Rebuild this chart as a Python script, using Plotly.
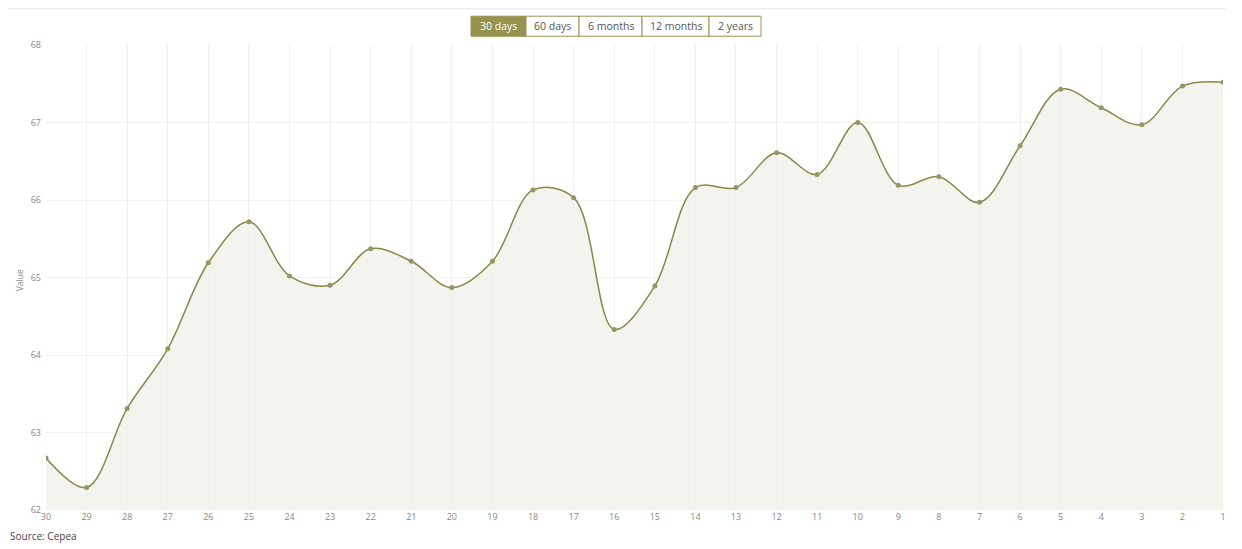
import plotly.graph_objects as go

days = ["30", "29", "28", "27", "26", "25", "24", "23", "22", "21", "20", "19", "18", "17", "16",
        "15", "14", "13", "12", "11", "10", "9", "8", "7", "6", "5", "4", "3", "2", "1"]
values = [62.67, 62.29, 63.31, 64.08, 65.19, 65.72, 65.02, 64.90, 65.37, 65.21,
          64.87, 65.21, 66.13, 66.03, 64.33, 64.89, 66.16, 66.16, 66.61, 66.33,
          67.00, 66.19, 66.30, 65.97, 66.70, 67.43, 67.19, 66.97, 67.47, 67.52]
y_ticks = [62, 63, 64, 65, 66, 67, 68]
buttons = ["30 days", "60 days", "6 months", "12 months", "2 years"]
button_edges_px = [471, 526, 579, 642, 709, 761]

W, H = 1242, 549
OFF = 8  # page body margin
L, R, T, B = 46, 1223, 44.8, 509.8
PW, PH = R - L, B - T

def px(x):
    return (x - L) / PW

def py(y):
    return (B - y) / PH

OLIVE = "#96924f"
LINE = "#8a8748"
FONT = "Open Sans, Noto Sans, sans-serif"

fig = go.Figure()
fig.add_trace(go.Scatter(
    x=days, y=values, mode="lines+markers",
    line=dict(color=LINE, width=1.5, shape="spline", smoothing=1.0),
    marker=dict(color="#979563", size=5),
    fill="tozeroy", fillcolor="rgba(240,240,232,0.7)",
    hoverinfo="x+y", showlegend=False,
))

shapes = [dict(type="line", xref="paper", yref="paper", x0=px(8), x1=px(1226),
               y0=py(8.6), y1=py(8.6), line=dict(color="#e6e6e6", width=1))]
annotations = []
for i, b in enumerate(buttons):
    x0, x1 = button_edges_px[i], button_edges_px[i + 1]
    active = i == 0
    shapes.append(dict(type="rect", xref="paper", yref="paper",
                       x0=px(x0), x1=px(x1), y0=py(36), y1=py(16),
                       fillcolor=OLIVE if active else "white",
                       line=dict(color=OLIVE, width=1)))
    annotations.append(dict(xref="paper", yref="paper", x=px((x0 + x1) / 2), y=py(26),
                            text=b, showarrow=False, xanchor="center", yanchor="middle",
                            font=dict(family=FONT, size=10.5,
                                      color="white" if active else "#555555")))

annotations.append(dict(xref="paper", yref="paper", x=px(19), y=py(280), text="Value",
                        textangle=-90, showarrow=False, xanchor="center", yanchor="middle",
                        font=dict(family=FONT, size=8.5, color="#888888")))
annotations.append(dict(xref="paper", yref="paper", x=px(8), y=py(536), text="Source: Cepea",
                        showarrow=False, xanchor="left", yanchor="middle",
                        font=dict(family=FONT, size=10, color="#444444")))

fig.update_layout(
    width=W - OFF, height=H - OFF,
    margin=dict(l=L - OFF, r=W - R, t=T - OFF, b=H - B),
    paper_bgcolor="white", plot_bgcolor="white",
    font=dict(family=FONT),
    shapes=shapes, annotations=annotations,
    xaxis=dict(type="category", range=[0, len(days) - 1], showgrid=True,
               gridcolor="#f0f0ee", gridwidth=1, zeroline=False, showline=False,
               ticks="", tickfont=dict(family=FONT, size=9, color="#888888"),
               fixedrange=True),
    yaxis=dict(range=[62, 68], tickvals=y_ticks, showgrid=True, gridcolor="#f2f2f2",
               zeroline=False, showline=False, ticks="", ticklabelstandoff=4,
               tickfont=dict(family=FONT, size=9, color="#888888"), fixedrange=True),
)

fig.write_html("out.html")
